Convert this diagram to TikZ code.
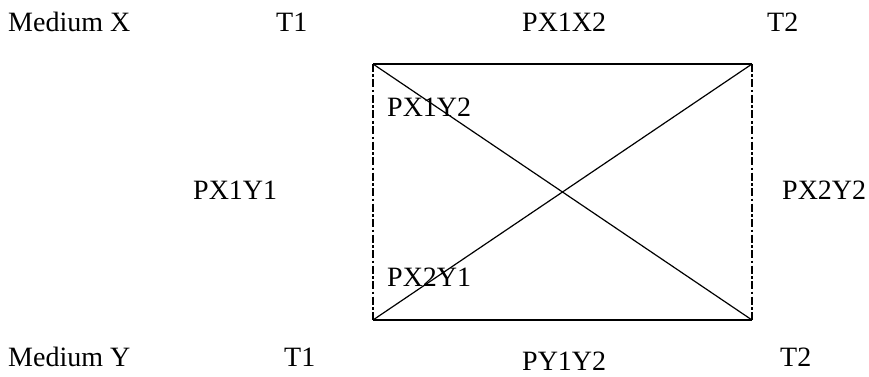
\documentclass[tikz,border=0pt]{standalone}
\usepackage{fontspec}
\setmainfont{Liberation Serif}
\begin{document}
\begin{tikzpicture}[x=1pt,y=-1pt,
  lbl/.style={anchor=base west,inner sep=0pt,font=\fontsize{28}{30}\selectfont},
  solidedge/.style={line width=2.8pt},
  dashdotedge/.style={line width=2.2pt,dash pattern=on 8pt off 2.5pt on 2.5pt off 2.5pt},
  diagline/.style={line width=1.2pt}]
\useasboundingbox (0,0) rectangle (869,377);
\coordinate (tl) at (373,64);
\coordinate (tr) at (752,64);
\coordinate (bl) at (373,320);
\coordinate (br) at (752,320);
\draw[solidedge] (tl) -- (tr);
\draw[solidedge] (bl) -- (br);
\draw[dashdotedge] (tl) -- (bl);
\draw[dashdotedge] (tr) -- (br);
\draw[diagline] (tl) -- (br);
\draw[diagline] (bl) -- (tr);
\node[lbl] (mx) at (8,32) {Medium X};
\node[lbl] (t1a) at (276,32) {T1};
\node[lbl] (px1x2) at (522,32) {PX1X2};
\node[lbl] (t2a) at (767,32) {T2};
\node[lbl] (px1y2) at (387,117) {PX1Y2};
\node[lbl] (px1y1) at (193,199) {PX1Y1};
\node[lbl] (px2y2) at (782,199) {PX2Y2};
\node[lbl] (px2y1) at (387,286) {PX2Y1};
\node[lbl] (my) at (8,366) {Medium Y};
\node[lbl] (t1b) at (284,366) {T1};
\node[lbl] (py1y2) at (522,370) {PY1Y2};
\node[lbl] (t2b) at (780,366) {T2};
\end{tikzpicture}
\end{document}
